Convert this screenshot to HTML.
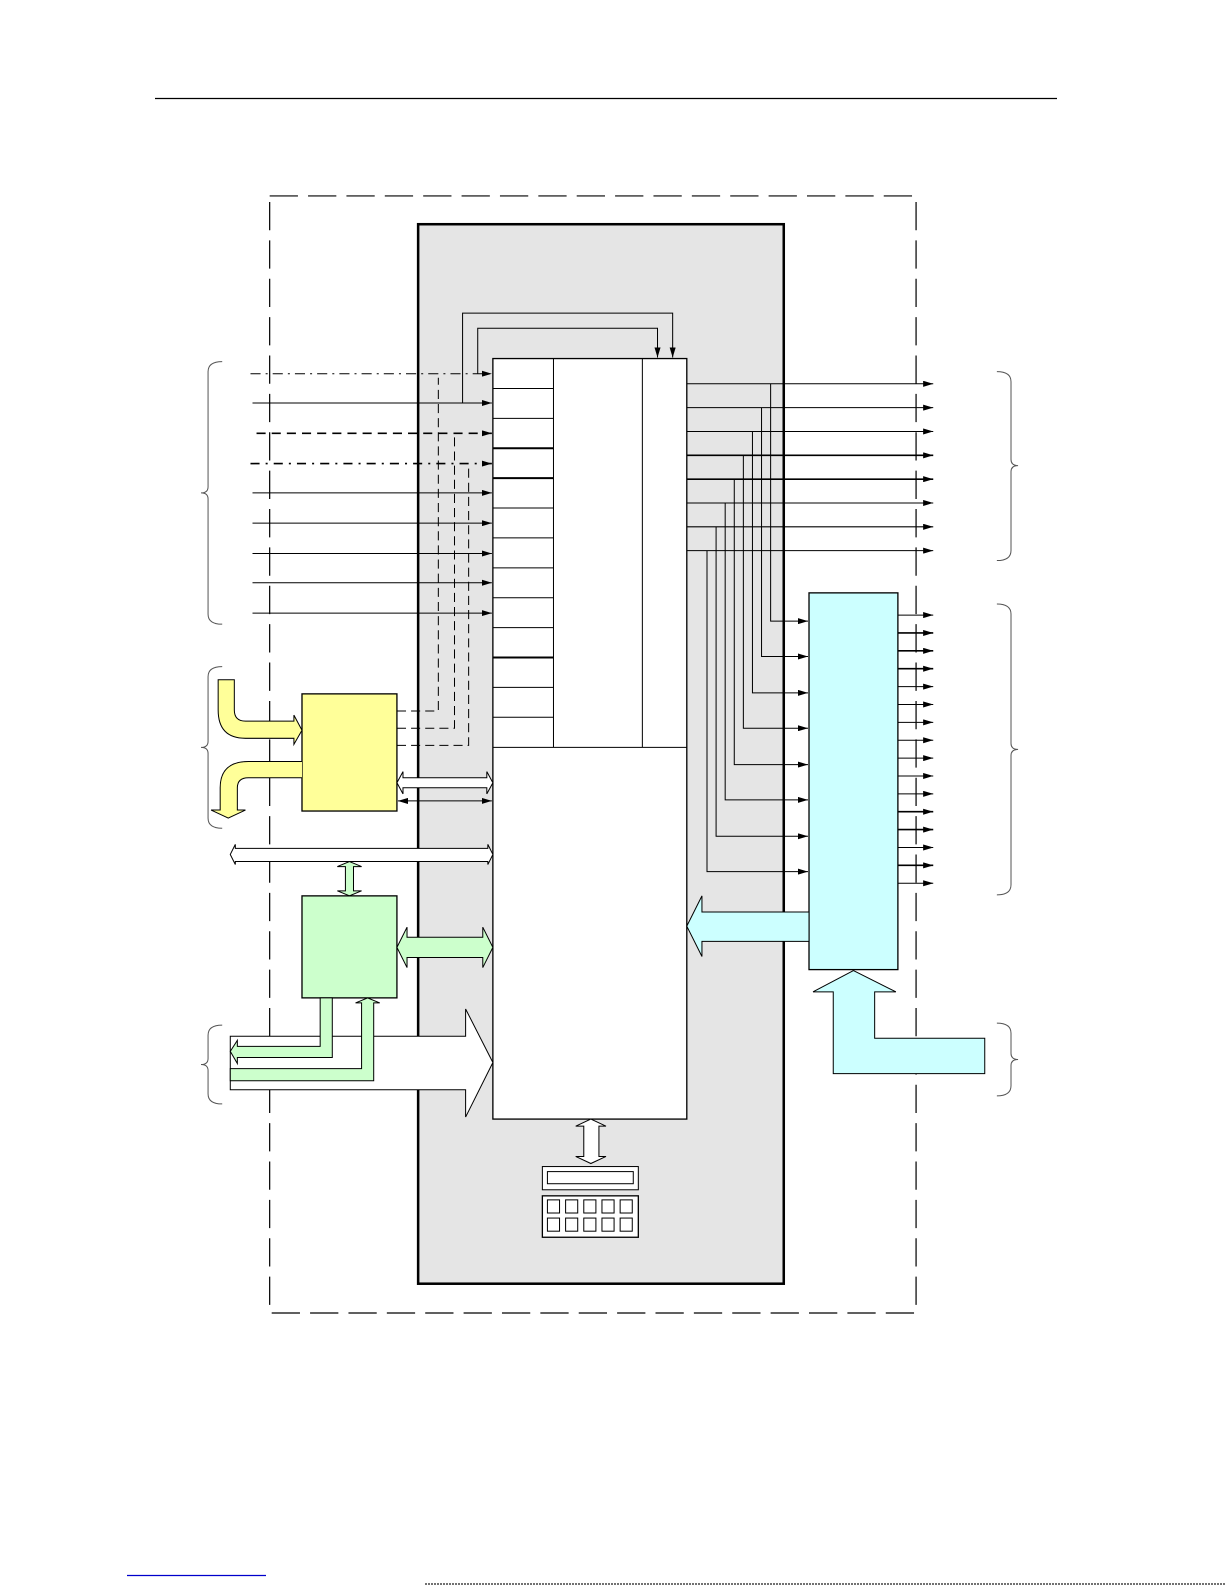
<!DOCTYPE html>
<html><head><meta charset="utf-8"><style>html,body{margin:0;padding:0;background:#fff}svg{display:block}</style></head>
<body>
<svg width="1225" height="1585" viewBox="0 0 1225 1585" xmlns="http://www.w3.org/2000/svg">
<defs>
<marker id="a" markerWidth="10" markerHeight="6" refX="10" refY="3" orient="auto-start-reverse" markerUnits="userSpaceOnUse"><path d="M0,0 L10,3 L0,6 Z" fill="#000"/></marker>
</defs>
<line x1="155" y1="98.5" x2="1057" y2="98.5" stroke="#000" stroke-width="1.3"/>
<g transform="scale(1.01)" stroke="#000" fill="none" stroke-width="1">
<rect x="267" y="194" width="640" height="1106" stroke-dasharray="28,10" stroke-width="1.2"/>
<rect x="414" y="222" width="362" height="1049" fill="#e5e5e5" stroke-width="2.5"/>
<rect x="488" y="355" width="192" height="753" fill="#fff" stroke-width="1.3"/>
<line x1="548" y1="355" x2="548" y2="740"/><line x1="636" y1="355" x2="636" y2="740"/>
<line x1="488" y1="740" x2="680" y2="740"/>
<g>
<line x1="488" y1="384.6" x2="548" y2="384.6"/><line x1="488" y1="414.2" x2="548" y2="414.2"/>
<line x1="488" y1="443.8" x2="548" y2="443.8" stroke-width="2"/><line x1="488" y1="473.4" x2="548" y2="473.4" stroke-width="2"/>
<line x1="488" y1="503" x2="548" y2="503"/><line x1="488" y1="532.6" x2="548" y2="532.6"/>
<line x1="488" y1="562.2" x2="548" y2="562.2"/><line x1="488" y1="591.8" x2="548" y2="591.8"/>
<line x1="488" y1="621.4" x2="548" y2="621.4"/><line x1="488" y1="651" x2="548" y2="651" stroke-width="2"/>
<line x1="488" y1="680.6" x2="548" y2="680.6"/><line x1="488" y1="710.2" x2="548" y2="710.2"/>
</g>
<line x1="248" y1="370" x2="487" y2="370" stroke-dasharray="10,5,2,5" marker-end="url(#a)"/>
<line x1="250" y1="399" x2="487" y2="399" marker-end="url(#a)"/>
<line x1="254" y1="429" x2="487" y2="429" stroke-dasharray="9,6" stroke-width="1.6" marker-end="url(#a)"/>
<line x1="248" y1="459" x2="487" y2="459" stroke-dasharray="9,6,2,6" stroke-width="1.6" marker-end="url(#a)"/>
<line x1="250" y1="488" x2="487" y2="488" marker-end="url(#a)"/>
<line x1="250" y1="518" x2="487" y2="518" marker-end="url(#a)"/>
<line x1="250" y1="548" x2="487" y2="548" marker-end="url(#a)"/>
<line x1="250" y1="577" x2="487" y2="577" marker-end="url(#a)"/>
<line x1="250" y1="607" x2="487" y2="607" marker-end="url(#a)"/>
<polyline points="458,399 458,310 666,310 666,354" marker-end="url(#a)"/>
<polyline points="473,370 473,325 651,325 651,354" marker-end="url(#a)"/>
<polyline points="393,704 434,704 434,374" stroke-dasharray="9,5"/>
<polyline points="393,721 450,721 450,429" stroke-dasharray="9,5"/>
<polyline points="393,738 464,738 464,459" stroke-dasharray="9,5"/>
<rect x="299" y="687" width="94" height="116" fill="#ffff99" stroke-width="1.3"/>
<path d="M216,673 L232,673 L232,703 Q232,714 243,714 L291,714 L291,708 L299,723 L291,737 L291,731 L243,731 Q216,731 216,703 Z" fill="#ffff99"/>
<path d="M299,754 L246,754 Q218,754 218,780 L218,802 L209,802 L226,810 L243,802 L235,802 L235,780 Q235,770 246,770 L299,770" fill="#ffff99"/>
<path d="M393,775 L399,764 L399,770 L482,770 L482,764 L488,775 L482,786 L482,780 L399,780 L399,786 Z" fill="#fff"/>
<line x1="394" y1="793" x2="487" y2="793" marker-end="url(#a)" marker-start="url(#a)"/>
<path d="M228,846 L233,836 L233,840 L483,840 L483,836 L488,846 L483,856 L483,853 L233,853 L233,856 Z" fill="#fff"/>
<path d="M346,853 L358,858 L350,858 L350,882 L358,882 L346,887 L334,882 L342,882 L342,858 L334,858 Z" fill="#ccffcc"/>
<rect x="299" y="887" width="94" height="101" fill="#ccffcc" stroke-width="1.3"/>
<path d="M393,938 L403,918 L403,928 L478,928 L478,918 L488,938 L478,958 L478,948 L403,948 L403,958 Z" fill="#ccffcc"/>
<path d="M228,1026 L461,1026 L461,999 L488,1052 L461,1106 L461,1079 L228,1079 Z" fill="#fff"/>
<path d="M317,988 L329,988 L329,1047 L235,1047 L235,1053 L228,1041 L235,1030 L235,1036 L317,1036 Z" fill="#ccffcc"/>
<path d="M228,1058 L358,1058 L358,993 L352,993 L364,988 L376,993 L370,993 L370,1070 L228,1070 Z" fill="#ccffcc"/>
<path d="M585,1108 L600,1115 L593,1115 L593,1145 L600,1145 L585,1152 L570,1145 L578,1145 L578,1115 L570,1115 Z" fill="#fff"/>
<rect x="537" y="1155" width="95" height="23" fill="#fff"/>
<rect x="542" y="1160" width="85" height="12"/>
<rect x="537" y="1184" width="95" height="41" fill="#fff" stroke-width="1.3"/>
<g>
<rect x="542" y="1188" width="12" height="13"/><rect x="560" y="1188" width="12" height="13"/><rect x="578" y="1188" width="12" height="13"/><rect x="596" y="1188" width="12" height="13"/><rect x="614" y="1188" width="12" height="13"/>
<rect x="542" y="1206" width="12" height="13"/><rect x="560" y="1206" width="12" height="13"/><rect x="578" y="1206" width="12" height="13"/><rect x="596" y="1206" width="12" height="13"/><rect x="614" y="1206" width="12" height="13"/>
</g>
<g>
<line x1="680" y1="380" x2="924" y2="380" marker-end="url(#a)"/>
<line x1="680" y1="403.6" x2="924" y2="403.6" marker-end="url(#a)"/>
<line x1="680" y1="427.2" x2="924" y2="427.2" marker-end="url(#a)"/>
<line x1="680" y1="450.8" x2="924" y2="450.8" stroke-width="1.6" marker-end="url(#a)"/>
<line x1="680" y1="474.4" x2="924" y2="474.4" stroke-width="1.6" marker-end="url(#a)"/>
<line x1="680" y1="498" x2="924" y2="498" marker-end="url(#a)"/>
<line x1="680" y1="521.6" x2="924" y2="521.6" marker-end="url(#a)"/>
<line x1="680" y1="545.2" x2="924" y2="545.2" marker-end="url(#a)"/>
<polyline points="763,380 763,615 800,615" marker-end="url(#a)"/>
<polyline points="754,403.6 754,650 800,650" marker-end="url(#a)"/>
<polyline points="745,427.2 745,686 800,686" marker-end="url(#a)"/>
<polyline points="736,450.8 736,721 800,721" marker-end="url(#a)"/>
<polyline points="727,474.4 727,757 800,757" marker-end="url(#a)"/>
<polyline points="718,498 718,792 800,792" marker-end="url(#a)"/>
<polyline points="709,521.6 709,828 800,828" marker-end="url(#a)"/>
<polyline points="700,545.2 700,863 800,863" marker-end="url(#a)"/>
</g>
<rect x="801" y="587" width="88" height="373" fill="#ccffff" stroke-width="1.3"/>
<g>
<line x1="889" y1="609" x2="924" y2="609" marker-end="url(#a)"/><line x1="889" y1="626.7" x2="924" y2="626.7" stroke-width="1.6" marker-end="url(#a)"/>
<line x1="889" y1="644.4" x2="924" y2="644.4" stroke-width="1.6" marker-end="url(#a)"/><line x1="889" y1="662.1" x2="924" y2="662.1" stroke-width="1.6" marker-end="url(#a)"/>
<line x1="889" y1="679.8" x2="924" y2="679.8" marker-end="url(#a)"/><line x1="889" y1="697.5" x2="924" y2="697.5" marker-end="url(#a)"/>
<line x1="889" y1="715.2" x2="924" y2="715.2" marker-end="url(#a)"/><line x1="889" y1="732.9" x2="924" y2="732.9" marker-end="url(#a)"/>
<line x1="889" y1="750.6" x2="924" y2="750.6" marker-end="url(#a)"/><line x1="889" y1="768.3" x2="924" y2="768.3" marker-end="url(#a)"/>
<line x1="889" y1="786" x2="924" y2="786" marker-end="url(#a)"/><line x1="889" y1="803.7" x2="924" y2="803.7" stroke-width="1.6" marker-end="url(#a)"/>
<line x1="889" y1="821.4" x2="924" y2="821.4" stroke-width="1.6" marker-end="url(#a)"/><line x1="889" y1="839.1" x2="924" y2="839.1" marker-end="url(#a)"/>
<line x1="889" y1="856.8" x2="924" y2="856.8" stroke-width="1.6" marker-end="url(#a)"/><line x1="889" y1="874.5" x2="924" y2="874.5" marker-end="url(#a)"/>
</g>
<path d="M801,903 L695,903 L695,887 L680,917 L695,947 L695,932 L801,932 Z" fill="#ccffff"/>
<path d="M845,961 L887,982 L866,982 L866,1028 L975,1028 L975,1063 L825,1063 L825,982 L805,982 Z" fill="#ccffff"/>
<g stroke="#555">
<path d="M220,358 Q206,358 206,368 L206,482 Q206,488 199,488 Q206,488 206,494 L206,608 Q206,618 220,618"/>
<path d="M220,660 Q206,660 206,670 L206,734 Q206,740 199,740 Q206,740 206,746 L206,810 Q206,820 220,820"/>
<path d="M220,1015 Q206,1015 206,1025 L206,1048 Q206,1054 199,1054 Q206,1054 206,1060 L206,1083 Q206,1093 220,1093"/>
<path d="M987,368 Q1001,368 1001,378 L1001,455 Q1001,461 1008,461 Q1001,461 1001,467 L1001,545 Q1001,555 987,555"/>
<path d="M987,598 Q1001,598 1001,608 L1001,736 Q1001,742 1008,742 Q1001,742 1001,748 L1001,876 Q1001,886 987,886"/>
<path d="M987,1013 Q1001,1013 1001,1023 L1001,1043 Q1001,1049 1008,1049 Q1001,1049 1001,1055 L1001,1075 Q1001,1085 987,1085"/>
</g>
</g>
<line x1="127" y1="1575.5" x2="266" y2="1575.5" stroke="#0000cc" stroke-width="1.2"/>
<line x1="425" y1="1584" x2="1225" y2="1584" stroke="#444" stroke-width="1.5" stroke-dasharray="2,1"/>
</svg>
</body></html>
